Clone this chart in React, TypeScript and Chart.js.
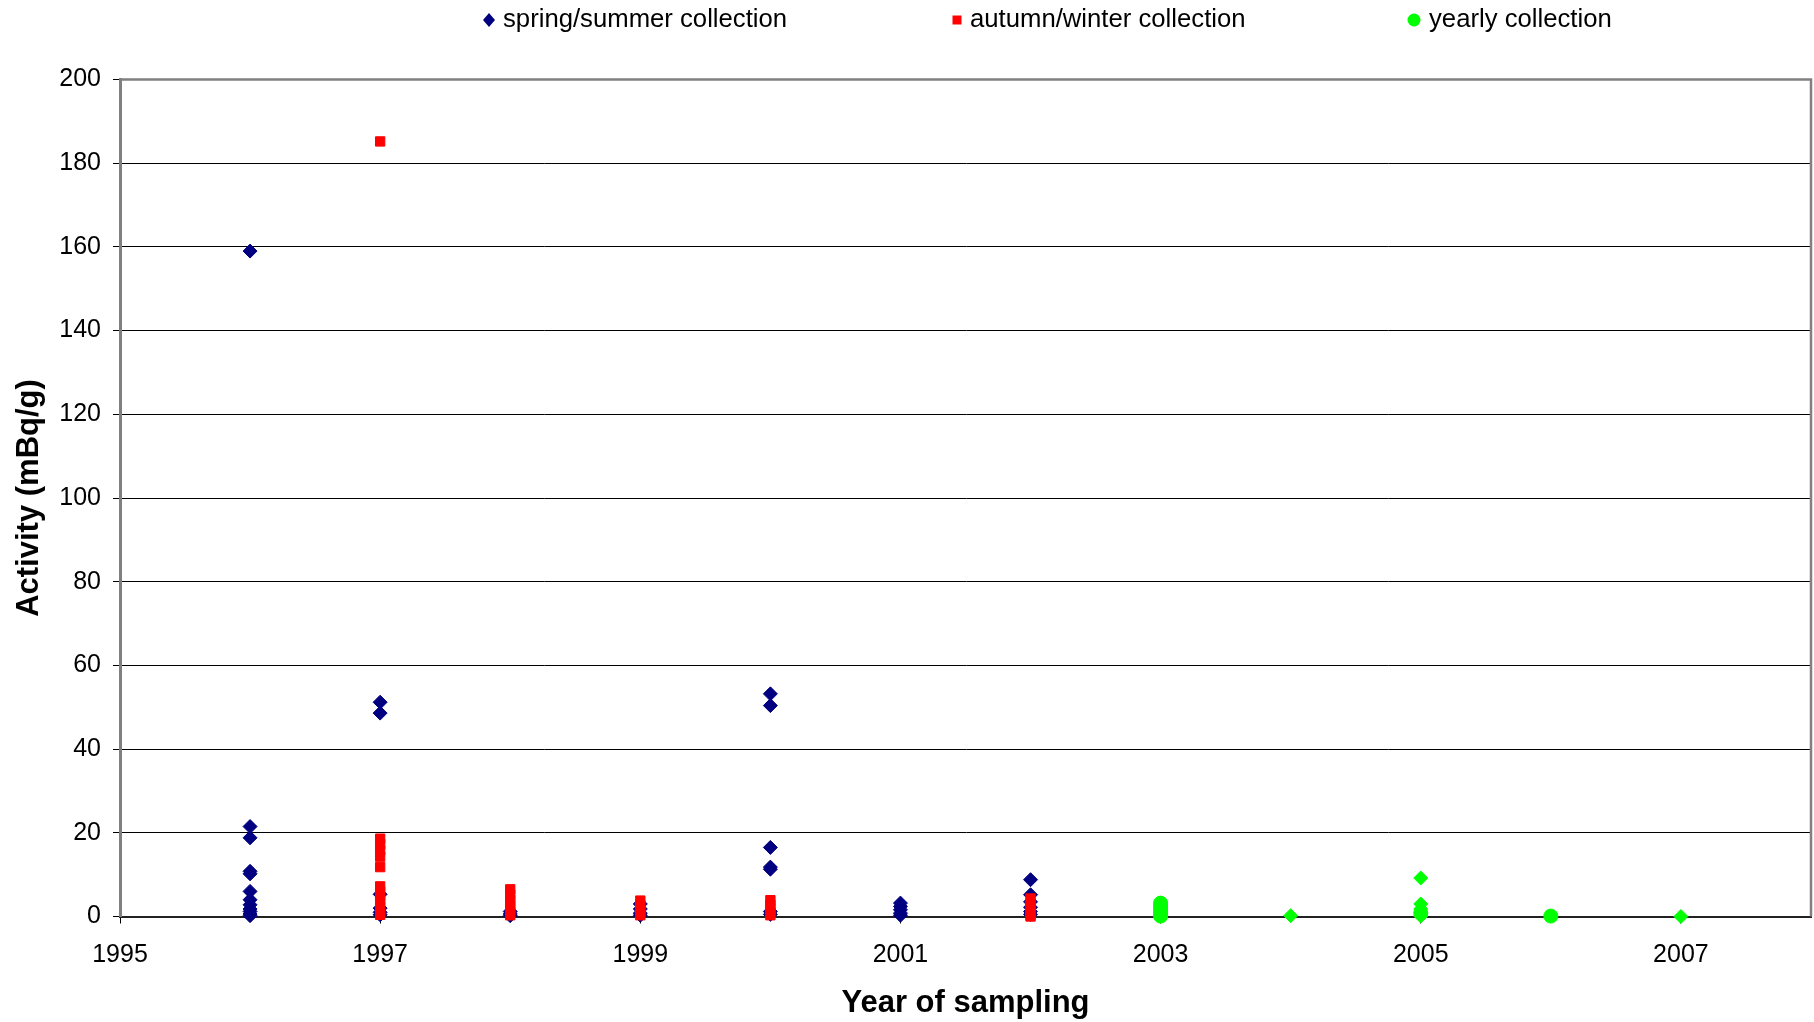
import React, { useEffect, useRef } from "react";
import { Chart, registerables } from "chart.js";

Chart.register(...registerables);

// ---- data ----
const springX = [
  1996, 1996, 1996, 1996, 1996, 1996, 1996, 1996, 1996, 1996, 1996, 1996,
  1997, 1997, 1997, 1997, 1997, 1997,
  1998, 1998, 1998,
  1999, 1999, 1999, 1999,
  2000, 2000, 2000, 2000, 2000, 2000, 2000,
  2001, 2001, 2001, 2001, 2001,
  2002, 2002, 2002, 2002, 2002, 2002,
];
const springY = [
  159.0, 21.5, 18.8, 10.8, 10.2, 6.0, 4.0, 2.8, 1.8, 1.2, 0.6, 0.2,
  51.2, 48.6, 5.3, 2.0, 1.0, 0.4,
  1.2, 0.6, 0.2,
  3.0, 1.8, 0.8, 0.3,
  53.2, 50.4, 16.5, 11.8, 11.3, 1.2, 0.5,
  3.2, 2.4, 1.6, 0.8, 0.3,
  8.8, 5.2, 3.5, 2.2, 1.2, 0.5,
];

const autumnX = [
  1997, 1997, 1997, 1997, 1997, 1997, 1997, 1997, 1997, 1997, 1997, 1997, 1997,
  1998, 1998, 1998, 1998, 1998, 1998, 1998,
  1999, 1999, 1999, 1999, 1999,
  2000, 2000, 2000, 2000, 2000,
  2002, 2002, 2002, 2002, 2002, 2002,
];
const autumnY = [
  185.2, 18.6, 17.3, 15.8, 14.3, 11.8, 7.2, 6.0, 4.8, 3.6, 2.4, 1.2, 0.4,
  6.5, 5.2, 4.0, 2.8, 1.8, 0.9, 0.3,
  3.8, 2.8, 1.8, 0.9, 0.3,
  3.9, 2.8, 1.8, 0.9, 0.3,
  4.3, 3.2, 2.2, 1.2, 0.4, 0.0,
];

const yearlyX = [2003, 2003, 2003, 2003, 2003, 2003, 2005, 2006];
const yearlyY = [3.2, 2.5, 1.8, 1.1, 0.5, 0.1, 0.8, 0.1];

const yearlyDiamondX = [2004, 2005, 2005, 2005, 2005, 2007];
const yearlyDiamondY = [0.2, 9.2, 3.0, 1.8, 0.1, 0.0];

const xTickValues = [1995, 1997, 1999, 2001, 2003, 2005, 2007];
const yTickStep = 20;

const seriesLabels = [
  "spring/summer collection",
  "autumn/winter collection",
  "yearly collection",
];

const NAVY = "#000080";
const RED = "#FF0000";
const GREEN = "#00FF00";
const FONT = '"Liberation Sans", Arial, sans-serif';

const toPoints = (xs: number[], ys: number[]) =>
  xs.map((x, i) => ({ x, y: ys[i] }));

const legendPlugin = {
  id: "customLegend",
  afterDraw(chart: any) {
    const ctx = chart.ctx as CanvasRenderingContext2D;
    const items = [
      { label: seriesLabels[0], color: NAVY, style: "diamond", mx: 489, tx: 503 },
      { label: seriesLabels[1], color: RED, style: "square", mx: 957, tx: 970 },
      { label: seriesLabels[2], color: GREEN, style: "circle", mx: 1414, tx: 1429 },
    ];
    const y = 20;
    ctx.save();
    items.forEach((it) => {
      ctx.fillStyle = it.color;
      ctx.beginPath();
      if (it.style === "diamond") {
        ctx.moveTo(it.mx, y - 7);
        ctx.lineTo(it.mx + 6, y);
        ctx.lineTo(it.mx, y + 7);
        ctx.lineTo(it.mx - 6, y);
        ctx.closePath();
      } else if (it.style === "square") {
        ctx.rect(it.mx - 4.5, y - 4.5, 9, 9);
      } else {
        ctx.arc(it.mx, y, 6.5, 0, Math.PI * 2);
      }
      ctx.fill();
      ctx.fillStyle = "#000";
      ctx.font = `25.7px ${FONT}`;
      ctx.textBaseline = "middle";
      ctx.textAlign = "left";
      ctx.fillText(it.label, it.tx, y);
    });
    ctx.restore();
  },
};

// keep the plot area reaching the right edge like the reference
const areaPlugin = {
  id: "fixArea",
  afterLayout(chart: any) {
    const x = chart.scales.x;
    const right = chart.width - 3;
    chart.chartArea.right = right;
    chart.chartArea.width = right - chart.chartArea.left;
    x.right = right;
    x.width = right - x.left;
    x.configure();
  },
};

const borderPlugin = {
  id: "plotBorder",
  beforeDatasetsDraw(chart: any) {
    const { ctx, chartArea } = chart;
    ctx.save();
    ctx.strokeStyle = "#808080";
    ctx.lineWidth = 2.5;
    ctx.beginPath();
    ctx.moveTo(chartArea.left, chartArea.top);
    ctx.lineTo(chartArea.right, chartArea.top);
    ctx.lineTo(chartArea.right, chartArea.bottom);
    ctx.stroke();
    ctx.restore();
  },
};

export default function App() {
  const canvasRef = useRef<HTMLCanvasElement | null>(null);

  useEffect(() => {
    if (!canvasRef.current) return;
    const chart = new Chart(canvasRef.current, {
      type: "scatter",
      data: {
        datasets: [
          {
            label: seriesLabels[0],
            data: toPoints(springX, springY),
            pointStyle: "rectRot",
            pointRadius: 7,
            borderWidth: 1,
            backgroundColor: NAVY,
            borderColor: NAVY,
            order: 4,
            clip: false,
          },
          {
            label: seriesLabels[1],
            data: toPoints(autumnX, autumnY),
            pointStyle: "rect",
            pointRadius: 6.6,
            borderWidth: 1,
            backgroundColor: RED,
            borderColor: RED,
            order: 3,
            clip: false,
          },
          {
            label: seriesLabels[2],
            data: toPoints(yearlyX, yearlyY),
            pointStyle: "circle",
            pointRadius: 7,
            borderWidth: 1,
            backgroundColor: GREEN,
            borderColor: GREEN,
            order: 2,
            clip: false,
          },
          {
            label: "",
            data: toPoints(yearlyDiamondX, yearlyDiamondY),
            pointStyle: "rectRot",
            pointRadius: 7,
            borderWidth: 1,
            backgroundColor: GREEN,
            borderColor: GREEN,
            order: 1,
            clip: false,
          },
        ],
      },
      options: {
        responsive: false,
        animation: false,
        devicePixelRatio: 1,
        layout: { padding: { top: 79.5, right: 3, bottom: 0, left: 0 } },
        plugins: {
          legend: { display: false },
          tooltip: { enabled: false },
        },
        scales: {
          x: {
            type: "linear",
            min: 1995,
            max: 2008,
            afterBuildTicks: (scale: any) => {
              scale.ticks = xTickValues.map((v) => ({ value: v }));
            },
            afterFit: (scale: any) => {
              scale.height = 105.5;
              scale.paddingLeft = 0;
              scale.paddingRight = 0;
            },
            ticks: {
              callback: (v: any) => String(v),
              color: "#000",
              font: { family: FONT, size: 25 },
              padding: 17,
              maxRotation: 0,
              autoSkip: false,
            },
            grid: {
              drawOnChartArea: false,
              drawTicks: true,
              tickLength: 7,
              color: "#000",
            },
            border: { color: "#222", width: 2 },
            title: {
              display: true,
              text: "Year of sampling",
              color: "#000",
              font: { family: FONT, size: 31, weight: "bold" },
              padding: { top: 0, bottom: 0 },
            },
          },
          y: {
            type: "linear",
            min: 0,
            max: 200,
            afterFit: (scale: any) => {
              scale.width = 120;
            },
            ticks: {
              stepSize: yTickStep,
              color: "#000",
              font: { family: FONT, size: 25 },
              padding: 12,
            },
            grid: {
              color: "#000",
              lineWidth: 1,
              tickLength: 7,
            },
            border: { color: "#808080", width: 3 },
            title: {
              display: true,
              text: "Activity (mBq/g)",
              color: "#000",
              font: { family: FONT, size: 31, weight: "bold" },
              padding: { top: 11, bottom: 0 },
            },
          },
        },
      },
      plugins: [areaPlugin, borderPlugin, legendPlugin],
    } as any);
    return () => chart.destroy();
  }, []);

  return (
    <div style={{ position: "absolute", left: 0, top: 0, width: 1814, height: 1022, background: "#fff" }}>
      <canvas ref={canvasRef} width={1814} height={1022} style={{ display: "block" }} />
    </div>
  );
}
